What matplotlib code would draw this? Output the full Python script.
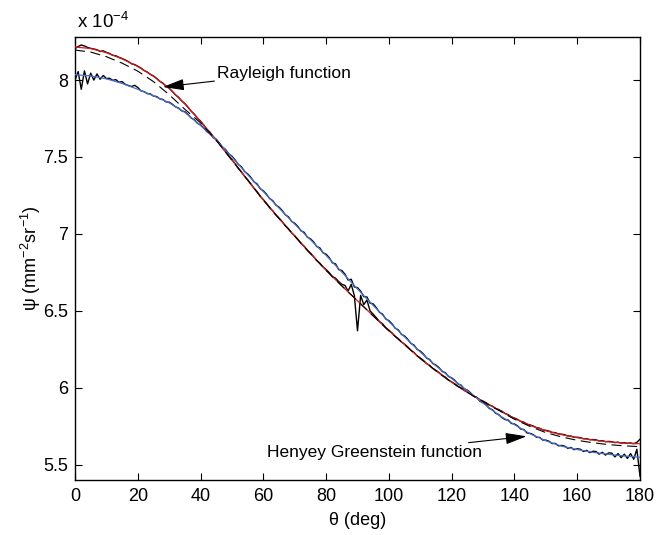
import matplotlib
matplotlib.use("Agg")
import matplotlib.pyplot as plt
from matplotlib.ticker import FormatStrFormatter

plt.rcParams['font.family'] = ['Liberation Sans', 'DejaVu Sans']
plt.rcParams['mathtext.fontset'] = 'custom'
plt.rcParams['mathtext.rm'] = 'Liberation Sans'
plt.rcParams['mathtext.it'] = 'Liberation Sans:italic'

# ---- data (psi in units of 1e-4 mm^-2 sr^-1) ----
theta_fit = list(range(0, 181, 5))
rayleigh_fit = [8.215, 8.205, 8.178, 8.138, 8.088, 8.025, 7.945, 7.845, 7.730, 7.610,
                7.480, 7.350, 7.220, 7.100, 6.985, 6.872, 6.763, 6.662, 6.565, 6.467,
                6.370, 6.280, 6.190, 6.110, 6.035, 5.970, 5.910, 5.855, 5.800, 5.755,
                5.720, 5.695, 5.675, 5.660, 5.648, 5.640, 5.635]
hg_fit = [8.035, 8.027, 8.008, 7.978, 7.940, 7.898, 7.852, 7.790, 7.705, 7.610,
          7.500, 7.385, 7.275, 7.168, 7.063, 6.962, 6.860, 6.752, 6.642, 6.535,
          6.430, 6.330, 6.232, 6.142, 6.060, 5.980, 5.900, 5.822, 5.760, 5.700,
          5.655, 5.620, 5.598, 5.580, 5.567, 5.556, 5.548]
dashed_fit = [8.195, 8.182, 8.152, 8.110, 8.058, 7.990, 7.905, 7.810, 7.722, 7.608,
              7.480, 7.350, 7.220, 7.100, 6.985, 6.872, 6.763, 6.662, 6.565, 6.467,
              6.370, 6.280, 6.190, 6.110, 6.035, 5.970, 5.910, 5.853, 5.795, 5.748,
              5.708, 5.680, 5.658, 5.642, 5.630, 5.622, 5.617]

theta_meas = list(range(0, 181))
rayleigh_meas = [
    8.205, 8.218, 8.228, 8.222, 8.212, 8.206, 8.202, 8.197, 8.186, 8.190, 8.180,
    8.173, 8.161, 8.158, 8.148, 8.140, 8.131, 8.120, 8.106, 8.101, 8.090,
    8.078, 8.062, 8.053, 8.037, 8.027, 8.011, 7.992, 7.980, 7.960, 7.947,
    7.927, 7.904, 7.888, 7.864, 7.847, 7.824, 7.798, 7.779, 7.752, 7.733,
    7.708, 7.681, 7.661, 7.633, 7.613, 7.586, 7.557, 7.535, 7.505, 7.483,
    7.456, 7.427, 7.404, 7.375, 7.352, 7.326, 7.297, 7.275, 7.245, 7.223,
    7.198, 7.171, 7.150, 7.123, 7.103, 7.080, 7.053, 7.034, 7.007, 6.988,
    6.965, 6.939, 6.920, 6.894, 6.875, 6.853, 6.827, 6.810, 6.786, 6.768,
    6.748, 6.722, 6.712, 6.690, 6.672, 6.665, 6.628, 6.672, 6.598, 6.370,
    6.600, 6.540, 6.570, 6.500, 6.478, 6.455, 6.430, 6.415, 6.390, 6.374,
    6.356, 6.333, 6.319, 6.297, 6.283, 6.265, 6.243, 6.229, 6.207, 6.193,
    6.177, 6.157, 6.145, 6.125, 6.113, 6.098, 6.079, 6.068, 6.049, 6.038,
    6.025, 6.008, 5.999, 5.982, 5.973, 5.961, 5.945, 5.937, 5.921, 5.913,
    5.902, 5.887, 5.880, 5.865, 5.858, 5.847, 5.832, 5.825, 5.810, 5.803,
    5.794, 5.781, 5.776, 5.763, 5.758, 5.751, 5.740, 5.737, 5.726, 5.723,
    5.718, 5.709, 5.708, 5.699, 5.698, 5.694, 5.686, 5.686, 5.678, 5.678,
    5.675, 5.668, 5.669, 5.662, 5.663, 5.661, 5.654, 5.656, 5.649, 5.651,
    5.649, 5.643, 5.646, 5.640, 5.643, 5.638, 5.641, 5.636, 5.645, 5.665]
hg_meas = [
    8.000, 8.055, 7.940, 8.060, 7.975, 8.045, 8.000, 8.040, 8.005, 8.030, 8.010,
    8.012, 7.998, 8.003, 7.986, 7.990, 7.972, 7.965, 7.958, 7.966, 7.952,
    7.930, 7.925, 7.912, 7.910, 7.896, 7.893, 7.878, 7.874, 7.858, 7.856,
    7.843, 7.826, 7.818, 7.800, 7.794, 7.776, 7.754, 7.742, 7.720, 7.708,
    7.689, 7.665, 7.652, 7.627, 7.614, 7.591, 7.564, 7.548, 7.520, 7.505,
    7.481, 7.452, 7.437, 7.406, 7.390, 7.368, 7.339, 7.325, 7.294, 7.280,
    7.258, 7.230, 7.216, 7.187, 7.174, 7.152, 7.124, 7.111, 7.081, 7.069,
    7.048, 7.020, 7.010, 6.979, 6.968, 6.948, 6.918, 6.909, 6.877, 6.868,
    6.845, 6.812, 6.805, 6.768, 6.762, 6.738, 6.700, 6.705, 6.655, 6.650,
    6.628, 6.592, 6.590, 6.550, 6.545, 6.520, 6.490, 6.478, 6.447, 6.436,
    6.415, 6.387, 6.376, 6.347, 6.336, 6.315, 6.288, 6.277, 6.249, 6.238,
    6.219, 6.193, 6.183, 6.157, 6.147, 6.130, 6.106, 6.097, 6.073, 6.064,
    6.048, 6.025, 6.016, 5.993, 5.984, 5.967, 5.945, 5.936, 5.912, 5.903,
    5.888, 5.865, 5.857, 5.834, 5.825, 5.806, 5.793, 5.790, 5.768, 5.764,
    5.752, 5.731, 5.728, 5.706, 5.703, 5.695, 5.678, 5.677, 5.660, 5.659,
    5.652, 5.637, 5.638, 5.622, 5.625, 5.620, 5.606, 5.612, 5.597, 5.603,
    5.600, 5.585, 5.593, 5.578, 5.587, 5.585, 5.568, 5.580, 5.562, 5.576,
    5.575, 5.550, 5.572, 5.545, 5.568, 5.540, 5.572, 5.535, 5.600, 5.425]

x_ticks = [0, 20, 40, 60, 80, 100, 120, 140, 160, 180]
y_ticks = [5.5, 6.0, 6.5, 7.0, 7.5, 8.0]

# ---- figure ----
fig = plt.figure(figsize=(6.59, 5.35), dpi=100)
ax = fig.add_axes([75/659, 1-480/535, 565/659, 443/535])

ax.plot(theta_meas, rayleigh_meas, color='black', lw=1.0, zorder=2)
ax.plot(theta_meas, hg_meas, color='black', lw=1.0, zorder=2)
ax.plot(theta_fit, rayleigh_fit, color='#d81a1a', lw=0.9, zorder=3)
ax.plot(theta_fit, hg_fit, color='#4a72d0', lw=0.9, zorder=3)
ax.plot(theta_fit, dashed_fit, color='black', lw=0.8, dashes=(9, 5), zorder=4)

ax.set_xlim(0, 180)
ax.set_ylim(5.40, 8.28)
ax.set_xticks(x_ticks)
ax.set_yticks(y_ticks)
ax.yaxis.set_major_formatter(FormatStrFormatter('%g'))
ax.tick_params(direction='in', length=5, width=0.8, top=True, right=True,
               labelsize=13, pad=5)
ax.tick_params(axis='x', pad=6)
for s in ax.spines.values():
    s.set_linewidth(1.0)

ax.set_xlabel('θ (deg)', fontsize=13, labelpad=5)
ax.set_ylabel(r'ψ (mm$^{-2}$sr$^{-1}$)', fontsize=13, labelpad=0)

fig.text(77/659, 1-28/535, r'x 10$^{-4}$', fontsize=13.5, ha='left', va='baseline')

arrow = dict(arrowstyle='-|>,head_length=1.3,head_width=0.35', color='black',
             lw=0.8, shrinkA=0, shrinkB=0, mutation_scale=10)
ax.annotate('Rayleigh function', xy=(28.0, 7.955), xytext=(45.3, 8.045),
            fontsize=12.5, ha='left', va='center', arrowprops=arrow)
ax.annotate('Henyey Greenstein function', xy=(143.9, 5.684), xytext=(61.1, 5.576),
            fontsize=12.5, ha='left', va='center', arrowprops=arrow)

fig.savefig('out.png', dpi=100)
